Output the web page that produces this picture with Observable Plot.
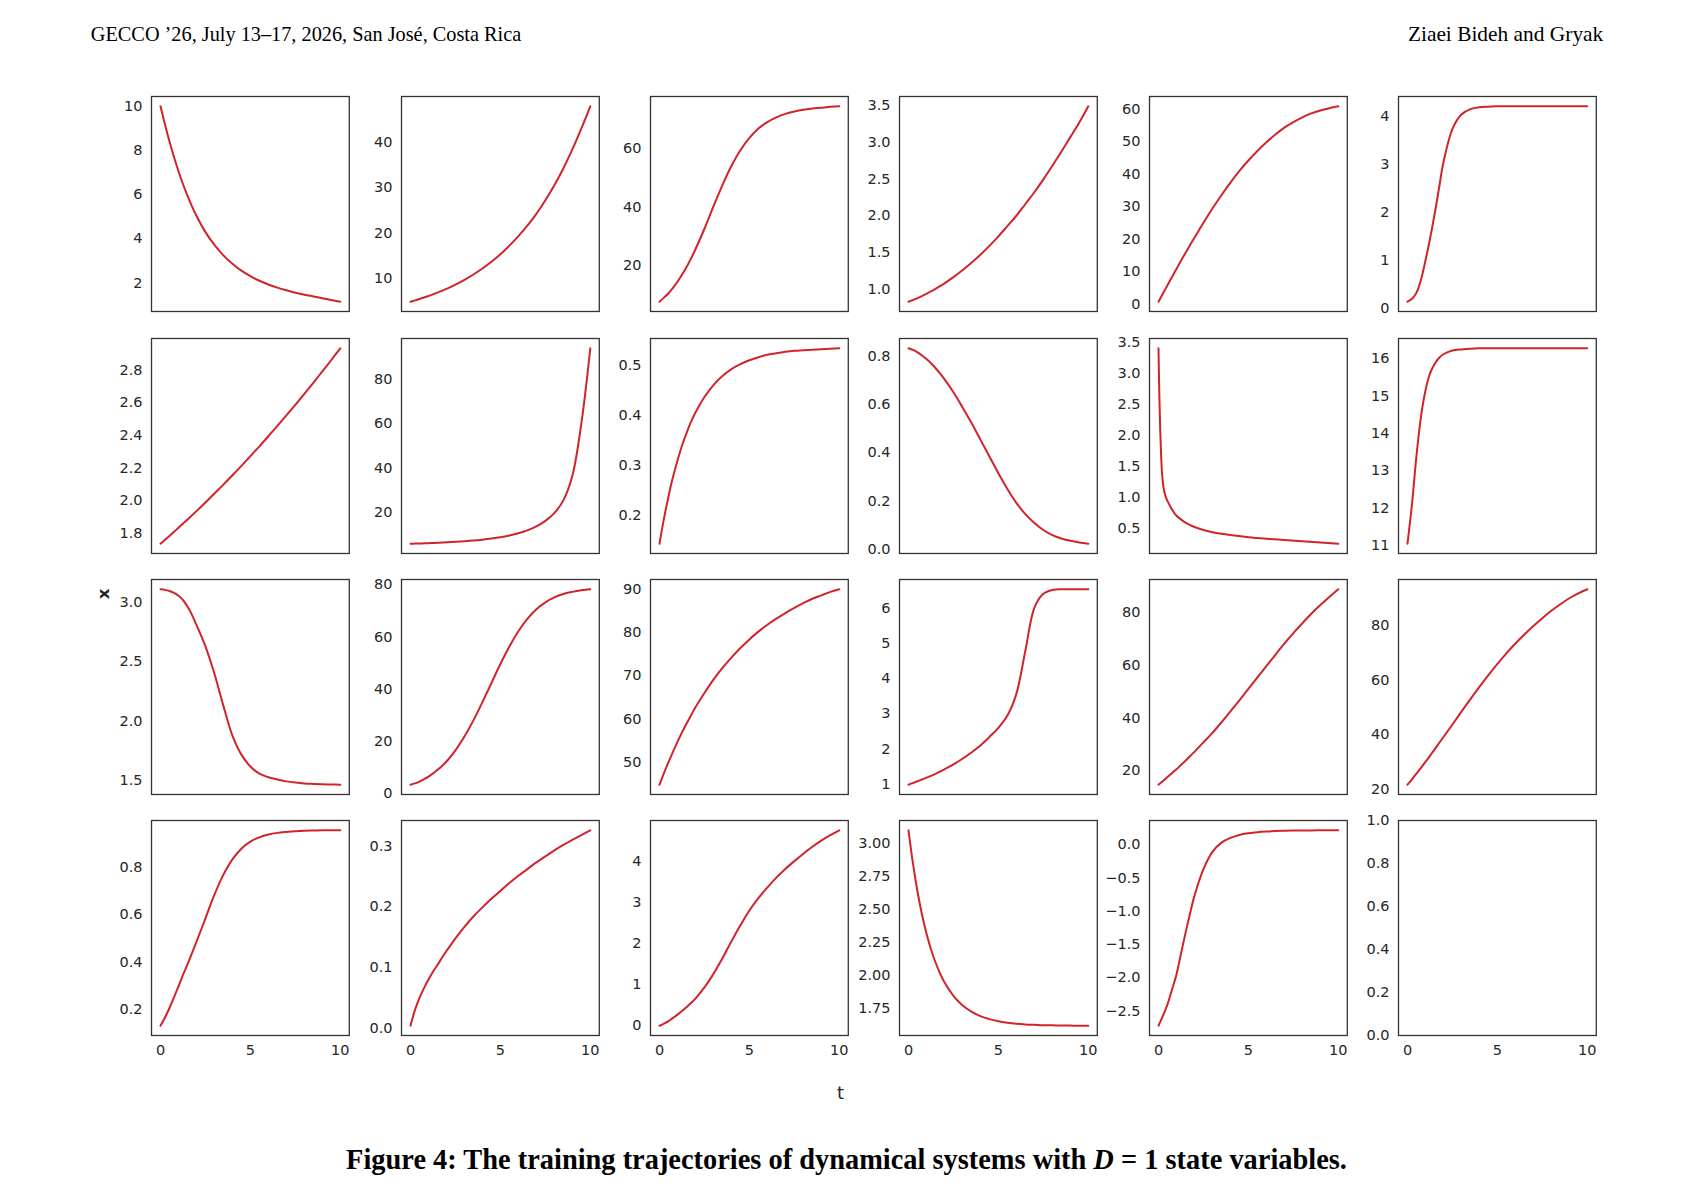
<!DOCTYPE html>
<html>
<head>
<meta charset="utf-8">
<script src="https://cdn.jsdelivr.net/npm/d3@7"></script>
<script src="https://cdn.jsdelivr.net/npm/@observablehq/plot@0.6"></script>
<style>
  html, body { margin: 0; padding: 0; background: #fff; }
  #page { position: relative; width: 1694px; height: 1199px; background: #fff; overflow: hidden; }
  .cell { position: absolute; }
  .cell svg { display: block; overflow: visible; }
  #overlay { position: absolute; left: 0; top: 0; pointer-events: none; }
</style>
</head>
<body>
<div id="page">
  <svg id="overlay" width="1694" height="1199">
    <text x="90.8" y="41" font-family="Liberation Serif, serif" font-size="20.3" fill="#000">GECCO ’26, July 13–17, 2026, San José, Costa Rica</text>
    <text x="1603.3" y="41" text-anchor="end" font-family="Liberation Serif, serif" font-size="21.4" fill="#000">Ziaei Bideh and Gryak</text>
    <text transform="translate(104.8,594) rotate(-90)" text-anchor="middle" dominant-baseline="middle" font-family="DejaVu Sans, sans-serif" font-weight="bold" font-size="16.5" fill="#262626">x</text>
    <text x="840.6" y="1099" text-anchor="middle" font-family="DejaVu Sans, sans-serif" font-size="18" fill="#262626">t</text>
    <text x="846.5" y="1169" text-anchor="middle" font-family="Liberation Serif, serif" font-weight="bold" font-size="28.4" fill="#000">Figure 4: The training trajectories of dynamical systems with <tspan font-style="italic">D</tspan> = 1 state variables.</text>
  </svg>
</div>
<script>
// Time grid shared by most trajectories (denser near t = 0).
const T = [0, 0.25, 0.5, 0.75, 1, 1.25, 1.5, 1.75, 2, 2.5, 3, 3.5, 4, 4.5, 5, 5.5, 6, 6.5, 7, 7.5, 8, 8.5, 9, 9.5, 10];
// Finer start for the trajectory with the very fast initial drop.
const T_FAST = [0, 0.05, 0.1, 0.15, 0.2, 0.3, 0.4, 0.5, 0.75, 1, 1.25, 1.5, 2, 2.5, 3, 3.5, 4, 5, 6, 7, 8, 9, 10];
const X_TICKS = [0, 5, 10];

// State trajectories x(t), one per system.
const sys01 = [10, 9.17, 8.4, 7.7, 7.06, 6.48, 5.95, 5.47, 5.04, 4.3, 3.72, 3.25, 2.87, 2.56, 2.31, 2.1, 1.93, 1.79, 1.67, 1.56, 1.47, 1.39, 1.31, 1.23, 1.15];
const sys02 = [4.85, 5.14, 5.44, 5.77, 6.1, 6.47, 6.84, 7.25, 7.68, 8.61, 9.66, 10.84, 12.16, 13.64, 15.3, 17.2, 19.3, 21.6, 24.2, 27.2, 30.5, 34.2, 38.4, 43.0, 47.9];
const sys03 = [7.7, 9.1, 10.6, 12.4, 14.5, 16.9, 19.5, 22.4, 25.6, 32.6, 40.2, 47.5, 54.0, 59.4, 63.6, 66.8, 69.0, 70.6, 71.8, 72.6, 73.2, 73.6, 73.9, 74.2, 74.4];
const sys04 = [0.83, 0.854, 0.879, 0.907, 0.938, 0.97, 1.005, 1.041, 1.08, 1.165, 1.258, 1.36, 1.47, 1.59, 1.72, 1.86, 2.0, 2.16, 2.32, 2.495, 2.68, 2.87, 3.07, 3.27, 3.49];
const sys05 = [0.7, 3.2, 5.8, 8.3, 10.8, 13.3, 15.7, 18.1, 20.4, 25.0, 29.4, 33.5, 37.4, 41.0, 44.2, 47.1, 49.8, 52.2, 54.3, 56.0, 57.5, 58.7, 59.6, 60.3, 60.9];
const sys06 = [0.14, 0.2, 0.33, 0.6, 1.0, 1.45, 1.95, 2.5, 3.05, 3.75, 4.05, 4.16, 4.2, 4.21, 4.22, 4.22, 4.22, 4.22, 4.22, 4.22, 4.22, 4.22, 4.22, 4.22, 4.22];
const sys07 = [1.735, 1.759, 1.783, 1.808, 1.833, 1.858, 1.883, 1.909, 1.935, 1.988, 2.043, 2.098, 2.155, 2.213, 2.273, 2.333, 2.395, 2.458, 2.523, 2.588, 2.655, 2.723, 2.793, 2.863, 2.935];
const sys08 = [6.0, 6.05, 6.1, 6.18, 6.25, 6.33, 6.42, 6.52, 6.62, 6.85, 7.1, 7.4, 7.8, 8.3, 8.9, 9.7, 10.7, 12.0, 13.8, 16.3, 19.8, 25.5, 36.5, 60, 94];
const sys09 = [0.142, 0.193, 0.237, 0.276, 0.309, 0.339, 0.364, 0.387, 0.406, 0.437, 0.461, 0.479, 0.493, 0.503, 0.511, 0.517, 0.522, 0.525, 0.528, 0.53, 0.531, 0.532, 0.533, 0.534, 0.535];
const sys10 = [0.835, 0.828, 0.818, 0.805, 0.79, 0.773, 0.753, 0.731, 0.707, 0.652, 0.59, 0.525, 0.455, 0.385, 0.315, 0.25, 0.192, 0.145, 0.108, 0.079, 0.058, 0.044, 0.034, 0.027, 0.022];
const sys11 = [3.4, 2.6, 2.05, 1.65, 1.38, 1.12, 1.01, 0.94, 0.8, 0.7, 0.64, 0.59, 0.52, 0.47, 0.435, 0.41, 0.39, 0.355, 0.33, 0.31, 0.29, 0.27, 0.25];
const sys12 = [11.04, 12.1, 13.4, 14.45, 15.15, 15.6, 15.85, 16.02, 16.12, 16.22, 16.25, 16.27, 16.28, 16.28, 16.28, 16.28, 16.28, 16.28, 16.28, 16.28, 16.28, 16.28, 16.28, 16.28, 16.28];
const sys13 = [3.11, 3.105, 3.095, 3.08, 3.055, 3.02, 2.965, 2.895, 2.81, 2.63, 2.4, 2.13, 1.88, 1.72, 1.62, 1.56, 1.53, 1.51, 1.495, 1.485, 1.478, 1.474, 1.471, 1.469, 1.467];
const sys14 = [3.3, 3.8, 4.5, 5.4, 6.4, 7.6, 9.0, 10.5, 12.2, 16.5, 21.8, 28.0, 35.0, 42.3, 49.6, 56.3, 62.2, 66.9, 70.6, 73.3, 75.2, 76.5, 77.3, 77.9, 78.3];
const sys15 = [44.8, 47.5, 50.0, 52.4, 54.7, 56.9, 58.9, 60.8, 62.7, 66.0, 69.1, 71.8, 74.2, 76.4, 78.4, 80.2, 81.8, 83.2, 84.5, 85.7, 86.8, 87.8, 88.6, 89.4, 90.0];
const sys16 = [0.98, 1.03, 1.08, 1.13, 1.18, 1.23, 1.29, 1.35, 1.42, 1.56, 1.72, 1.9, 2.1, 2.34, 2.6, 2.95, 3.57, 4.8, 6.02, 6.42, 6.53, 6.55, 6.55, 6.55, 6.55];
const sys17 = [14.6, 16.0, 17.5, 19.0, 20.5, 22.1, 23.7, 25.4, 27.1, 30.7, 34.3, 38.3, 42.5, 46.7, 51.0, 55.4, 59.7, 64.0, 68.2, 72.2, 76.0, 79.6, 82.9, 86.0, 88.9];
const sys18 = [21.6, 23.6, 25.7, 27.8, 30.0, 32.2, 34.5, 36.8, 39.1, 43.7, 48.4, 53.0, 57.5, 61.8, 65.9, 69.8, 73.4, 76.7, 79.8, 82.7, 85.4, 87.8, 90.0, 91.8, 93.3];
const sys19 = [0.13, 0.165, 0.205, 0.25, 0.297, 0.345, 0.39, 0.437, 0.485, 0.585, 0.685, 0.77, 0.835, 0.88, 0.91, 0.928, 0.94, 0.947, 0.951, 0.954, 0.956, 0.957, 0.958, 0.958, 0.958];
const sys20 = [0.004, 0.03, 0.05, 0.066, 0.08, 0.093, 0.104, 0.116, 0.127, 0.148, 0.167, 0.184, 0.199, 0.213, 0.226, 0.239, 0.251, 0.262, 0.273, 0.283, 0.293, 0.302, 0.31, 0.318, 0.326];
const sys21 = [0.0, 0.05, 0.11, 0.19, 0.27, 0.36, 0.45, 0.55, 0.66, 0.93, 1.26, 1.64, 2.05, 2.44, 2.8, 3.1, 3.36, 3.6, 3.81, 4.0, 4.18, 4.35, 4.5, 4.63, 4.75];
const sys22 = [3.1, 2.846, 2.635, 2.461, 2.316, 2.197, 2.098, 2.015, 1.946, 1.843, 1.771, 1.723, 1.689, 1.666, 1.65, 1.639, 1.631, 1.626, 1.623, 1.62, 1.619, 1.618, 1.617, 1.616, 1.616];
const sys23 = [-2.72, -2.57, -2.4, -2.18, -1.95, -1.64, -1.33, -1.04, -0.77, -0.37, -0.11, 0.03, 0.1, 0.145, 0.17, 0.186, 0.196, 0.203, 0.207, 0.21, 0.212, 0.213, 0.214, 0.215, 0.215];

// y tick labels of each subplot, row by row.
const Y_TICKS = [
  ["2", "4", "6", "8", "10"],
  ["10", "20", "30", "40"],
  ["20", "40", "60"],
  ["1.0", "1.5", "2.0", "2.5", "3.0", "3.5"],
  ["0", "10", "20", "30", "40", "50", "60"],
  ["0", "1", "2", "3", "4"],
  ["1.8", "2.0", "2.2", "2.4", "2.6", "2.8"],
  ["20", "40", "60", "80"],
  ["0.2", "0.3", "0.4", "0.5"],
  ["0.0", "0.2", "0.4", "0.6", "0.8"],
  ["0.5", "1.0", "1.5", "2.0", "2.5", "3.0", "3.5"],
  ["11", "12", "13", "14", "15", "16"],
  ["1.5", "2.0", "2.5", "3.0"],
  ["0", "20", "40", "60", "80"],
  ["50", "60", "70", "80", "90"],
  ["1", "2", "3", "4", "5", "6"],
  ["20", "40", "60", "80"],
  ["20", "40", "60", "80"],
  ["0.2", "0.4", "0.6", "0.8"],
  ["0.0", "0.1", "0.2", "0.3"],
  ["0", "1", "2", "3", "4"],
  ["1.75", "2.00", "2.25", "2.50", "2.75", "3.00"],
  ["\u22122.5", "\u22122.0", "\u22121.5", "\u22121.0", "\u22120.5", "0.0"],
  ["0.0", "0.2", "0.4", "0.6", "0.8", "1.0"]
];

const SERIES = [
  [T, sys01], [T, sys02], [T, sys03], [T, sys04], [T, sys05], [T, sys06],
  [T, sys07], [T, sys08], [T, sys09], [T, sys10], [T_FAST, sys11], [T, sys12],
  [T, sys13], [T, sys14], [T, sys15], [T, sys16], [T, sys17], [T, sys18],
  [T, sys19], [T, sys20], [T, sys21], [T, sys22], [T, sys23], null
];

// Grid geometry (page pixels).
const LEFT0 = 151.3, STEP_X = 249.35, W = 197.8;
const TOP0 = 96.2, STEP_Y = 241.3, H = 215;
const ML = 64, MR = 4, MT = 12;
const LINE_COLOR = "#d0242a";
const SPINE_COLOR = "#333333";
const TEXT_COLOR = "#262626";

const page = document.getElementById("page");

SERIES.forEach((s, i) => {
  const row = Math.floor(i / 6), col = i % 6;
  const bottomRow = row === 3;
  const MB = bottomRow ? 34 : 12;
  const labels = Y_TICKS[i];
  const tickVals = labels.map(l => +l.replace("\u2212", "-"));
  const labelOf = new Map(tickVals.map((v, k) => [v, labels[k]]));

  let yDomain = [0, 1];
  let data = [];
  if (s) {
    const [ts, xs] = s;
    data = ts.map((t, k) => ({t, v: xs[k]}));
    const lo = d3.min(xs), hi = d3.max(xs), pad = (hi - lo) * 0.05;
    yDomain = [lo - pad, hi + pad];
  }

  const marks = [
    Plot.axisY({
      ticks: tickVals,
      tickSize: 0,
      tickPadding: 9,
      tickFormat: v => labelOf.get(v),
      label: null
    })
  ];
  if (bottomRow) {
    marks.push(Plot.axisX({ticks: X_TICKS, tickSize: 0, tickPadding: 9, label: null}));
  }
  if (s) {
    marks.push(Plot.line(data, {x: "t", y: "v", stroke: LINE_COLOR, strokeWidth: 2, curve: "catmull-rom"}));
  }
  marks.push(Plot.frame({stroke: SPINE_COLOR, strokeWidth: 1.3}));

  const chart = Plot.plot({
    width: ML + W + MR,
    height: MT + H + MB,
    marginLeft: ML, marginRight: MR, marginTop: MT, marginBottom: MB,
    x: bottomRow ? {domain: [-0.5, 10.5]} : {domain: [-0.5, 10.5], axis: null},
    y: {domain: yDomain},
    style: {fontFamily: "DejaVu Sans, sans-serif", fontSize: "14.5px", color: TEXT_COLOR, background: "transparent", overflow: "visible"},
    marks
  });

  const cell = document.createElement("div");
  cell.className = "cell";
  cell.style.left = (LEFT0 + col * STEP_X - ML) + "px";
  cell.style.top = (TOP0 + row * STEP_Y - MT) + "px";
  cell.appendChild(chart);
  page.insertBefore(cell, document.getElementById("overlay"));
});
</script>
</body>
</html>
